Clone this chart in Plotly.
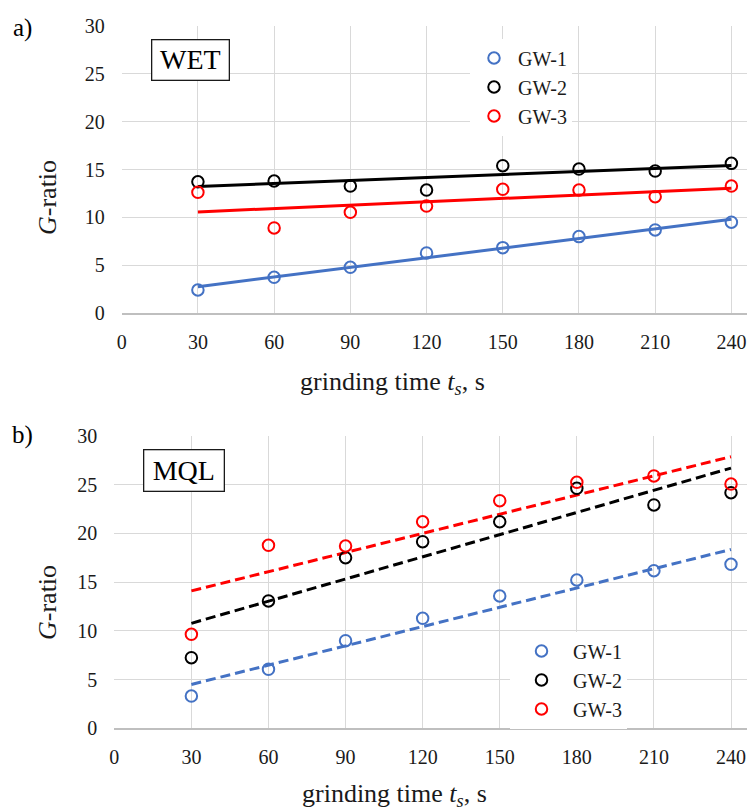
import numpy as np
import plotly.graph_objects as go

# ---------------- data ----------------
time_s = [30, 60, 90, 120, 150, 180, 210, 240]
series_names = ["GW-1", "GW-2", "GW-3"]

wet_gw1 = [2.43, 3.75, 4.8, 6.3, 6.85, 8.0, 8.7, 9.5]
wet_gw2 = [13.72, 13.8, 13.27, 12.86, 15.4, 15.05, 14.84, 15.64]
wet_gw3 = [12.62, 8.9, 10.53, 11.19, 12.93, 12.86, 12.16, 13.27]

mql_gw1 = [3.31, 6.05, 8.99, 11.29, 13.58, 15.22, 16.18, 16.83]
mql_gw2 = [7.25, 13.07, 17.51, 19.15, 21.2, 24.63, 22.92, 24.18]
mql_gw3 = [9.65, 18.78, 18.71, 21.2, 23.36, 25.25, 25.9, 25.07]

x_ticks = [0, 30, 60, 90, 120, 150, 180, 210, 240]
y_ticks = [0, 5, 10, 15, 20, 25, 30]

colors = ["#4472C4", "#000000", "#FF0000"]
FONT = "'Liberation Serif', 'Times New Roman', Times, serif"
W, H = 747, 807

fig = go.Figure()

def add_panel(series, xa, ya, legend, dash):
    for name, vals, col in zip(series_names, series, colors):
        slope, icpt = np.polyfit(time_s, vals, 1)
        xt = np.array([time_s[0], time_s[-1]], dtype=float)
        fig.add_trace(go.Scatter(
            x=xt, y=slope * xt + icpt, mode="lines",
            line=dict(color=col, width=3, dash=dash),
            showlegend=False, xaxis=xa, yaxis=ya, hoverinfo="skip"))
    for name, vals, col in zip(series_names, series, colors):
        fig.add_trace(go.Scatter(
            x=time_s, y=vals, mode="markers", name=name,
            marker=dict(symbol="circle-open", size=11.5, color=col,
                        line=dict(color=col, width=2)),
            xaxis=xa, yaxis=ya, legend=legend))

add_panel([wet_gw1, wet_gw2, wet_gw3], "x", "y", "legend", "solid")
add_panel([mql_gw1, mql_gw2, mql_gw3], "x2", "y2", "legend2", "10px,5px")

# geometry (pixels) of both plot areas
top_l, top_t, top_b = 121.7, 25.7, 313.3
bot_l, bot_t, bot_b = 114.3, 436.0, 728.3

def px_x(v):
    return v / W

def px_y(v):
    return 1 - v / H

xrange_top = [0, (W - top_l) / ((731.4 - top_l) / 240)]
xrange_bot = [0, (W - bot_l) / ((731.0 - bot_l) / 240)]

axis_font = dict(family=FONT, size=20, color="#1a1a1a")
common_x = dict(tickvals=x_ticks, showgrid=True, gridcolor="#d9d9d9", gridwidth=1.3,
                zeroline=False, showline=True, linecolor="#bfbfbf", linewidth=1.5,
                ticks="", tickfont=axis_font, ticklabelstandoff=10, automargin=False)
common_y = dict(range=[0, 30], tickvals=y_ticks, showgrid=True, gridcolor="#d9d9d9",
                gridwidth=1.3, zeroline=False, showline=False, ticks="",
                tickfont=axis_font, ticklabelstandoff=16, automargin=False)

leg_font = dict(family=FONT, size=20, color="#1a1a1a")
fig.update_layout(
    width=W, height=H, margin=dict(l=0, r=0, t=0, b=0, autoexpand=False),
    paper_bgcolor="white", plot_bgcolor="white",
    font=dict(family=FONT),
    xaxis=dict(domain=[px_x(top_l), 1], range=xrange_top, anchor="y", **common_x),
    yaxis=dict(domain=[px_y(top_b), px_y(top_t)], anchor="x", **common_y),
    xaxis2=dict(domain=[px_x(bot_l), 1], range=xrange_bot, anchor="y2", **common_x),
    yaxis2=dict(domain=[px_y(bot_b), px_y(bot_t)], anchor="x2", **common_y),
    legend=dict(x=px_x(470), y=px_y(38.5), xanchor="left", yanchor="top",
                bgcolor="white", font=leg_font, entrywidth=200,
                itemwidth=38, tracegroupgap=0),
    legend2=dict(x=px_x(510), y=px_y(631.5), xanchor="left", yanchor="top",
                 bgcolor="white", font=leg_font, entrywidth=198,
                 itemwidth=53, tracegroupgap=0),
    showlegend=True,
)

ann = []
box_font = dict(family=FONT, size=28, color="black")
ann.append(dict(text="WET", x=px_x(190), y=px_y(59.5), xref="paper", yref="paper",
                showarrow=False, font=box_font,
                bgcolor="white", bordercolor="#1a1a1a", borderwidth=1.3, borderpad=3,
                width=70, height=33, xanchor="center", yanchor="middle"))
ann.append(dict(text="MQL", x=px_x(183.8), y=px_y(470.5), xref="paper", yref="paper",
                showarrow=False, font=box_font,
                bgcolor="white", bordercolor="#1a1a1a", borderwidth=1.3, borderpad=3,
                width=73, height=34, xanchor="center", yanchor="middle"))
letter_font = dict(family=FONT, size=25, color="black")
ann.append(dict(text="a)", x=px_x(22), y=px_y(28), xref="paper", yref="paper",
                showarrow=False, font=letter_font, xanchor="center", yanchor="middle"))
ann.append(dict(text="b)", x=px_x(22.5), y=px_y(435), xref="paper", yref="paper",
                showarrow=False, font=letter_font, xanchor="center", yanchor="middle"))
xtitle = "grinding time <i>t<sub>s</sub></i>, s"
ytitle = "<i>G</i>-ratio"
title_font = dict(family=FONT, size=26, color="#1a1a1a")
ann.append(dict(text=xtitle, x=px_x(392.5), y=px_y(383), xref="paper", yref="paper",
                showarrow=False, font=title_font, xanchor="center", yanchor="middle"))
ann.append(dict(text=xtitle, x=px_x(394), y=px_y(795), xref="paper", yref="paper",
                showarrow=False, font=title_font, xanchor="center", yanchor="middle"))
ann.append(dict(text=ytitle, x=px_x(48), y=px_y(197), xref="paper", yref="paper",
                showarrow=False, textangle=-90, font=title_font,
                xanchor="center", yanchor="middle"))
ann.append(dict(text=ytitle, x=px_x(47), y=px_y(603), xref="paper", yref="paper",
                showarrow=False, textangle=-90, font=title_font,
                xanchor="center", yanchor="middle"))
fig.update_layout(annotations=ann)

fig.write_html("out.html")
